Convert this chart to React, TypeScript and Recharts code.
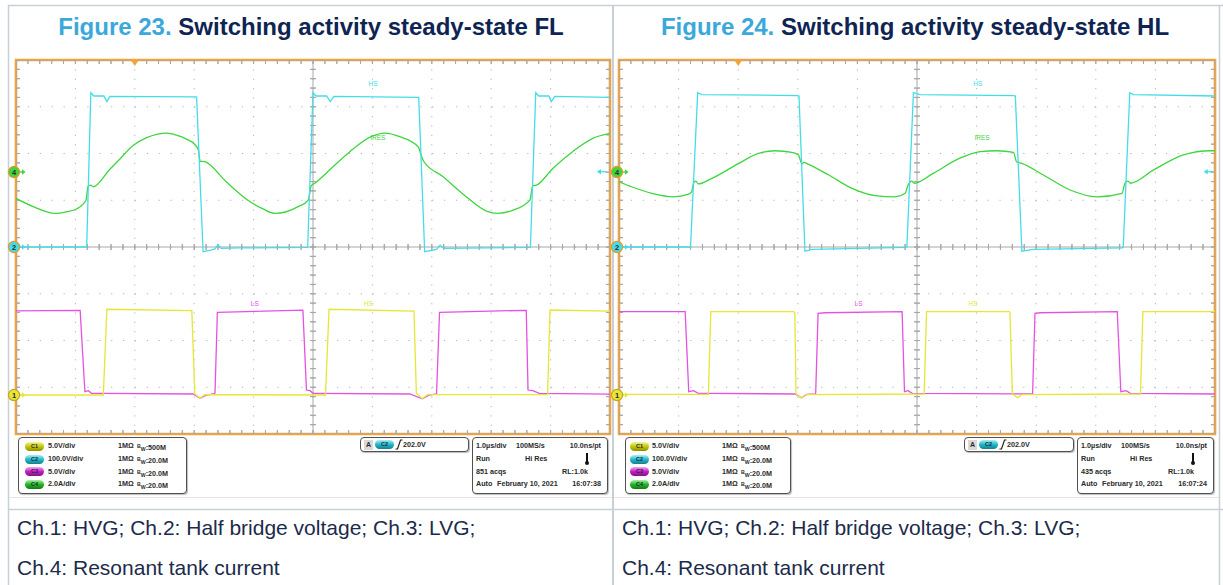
import React from 'react';
import { LineChart, Line, XAxis, YAxis, CartesianGrid, ReferenceDot, ReferenceArea } from 'recharts';

// ================= Oscilloscope channel settings =================
const CH_SCALE: any = { c1: 5, c2: 100, c3: 5, c4: 2 }; // units / division
const CH_OFFSET: any = { c1: -3.166, c2: 0, c3: -3.166, c4: 1.604 }; // zero level, divisions from centre
const CH_COLOR: any = { c1: '#E6E636', c2: '#45DCEA', c3: '#E452E4', c4: '#3ED63E' };

// ================= Figure 23 : steady-state FL =================
const FL_C2_T = [0, 1.19, 1.26, 1.31, 1.48, 1.53, 1.58, 3.04, 3.15, 3.30, 3.35, 3.40, 3.45, 3.77, 4.91, 5.00, 5.05, 5.23, 5.29, 5.35, 6.78, 6.88, 7.08, 7.14, 7.20, 8.66, 8.75, 8.80, 8.97, 9.01, 9.07, 10];
const FL_C2_V = [0, 0, 330, 323, 323, 311, 322, 321, -10, -6, -4, 5, -3, -2, -1, 330, 323, 323, 311, 322, 320, -10, -5, 4, -3, -1, 330, 323, 323, 311, 322, 320];

const FL_C4_T = [0, 0.29, 0.66, 0.85, 1.02, 1.18, 1.21, 1.26, 1.30, 1.58, 1.75, 1.97, 2.20, 2.37, 2.54, 2.70, 2.87, 3.01, 3.07, 3.10, 3.18, 3.54, 3.94, 4.16, 4.36, 4.55, 4.75, 4.92, 4.97, 5.03, 5.31, 5.62, 5.98, 6.21, 6.46, 6.77, 6.82, 6.86, 7.19, 7.58, 7.92, 8.11, 8.37, 8.65, 8.70, 8.76, 9.04, 9.37, 9.71, 10];
const FL_C4_A = [-1.13, -1.48, -1.77, -1.70, -1.58, -1.20, -0.63, -0.56, -0.63, 0.12, 0.56, 1.13, 1.47, 1.61, 1.66, 1.58, 1.41, 1.18, 0.94, 0.47, 0.44, -0.42, -1.27, -1.58, -1.77, -1.70, -1.48, -1.20, -0.59, -0.48, 0.16, 0.87, 1.51, 1.66, 1.51, 1.08, 0.73, 0.47, -0.20, -1.06, -1.67, -1.77, -1.63, -1.20, -0.59, -0.56, 0.16, 0.87, 1.44, 1.65];

const FL_C3_T = [0, 1.08, 1.16, 1.22, 1.27, 1.47, 2.98, 3.10, 3.21, 3.32, 3.35, 3.39, 4.83, 4.89, 4.95, 5.00, 5.06, 6.63, 6.84, 6.96, 7.08, 7.13, 8.59, 8.62, 8.70, 8.81, 10];
const FL_C3_V = [9.0, 9.05, 0.35, 0.46, 0.18, 0.18, 0.11, -0.35, 0, 0.11, 0.2, 8.85, 9.08, 0.53, 0.46, 0.18, 0.18, 0.11, -0.4, 0, 0.11, 8.84, 9.06, 0.53, 0.46, 0.18, 0.1];

const FL_C1_T = [0, 1.47, 1.53, 2.96, 3.01, 3.10, 3.18, 5.21, 5.27, 6.70, 6.74, 6.84, 6.93, 8.95, 8.99, 10];
const FL_C1_V = [0, 0, 9.17, 9.02, 0.11, -0.35, 0.05, 0, 9.17, 8.98, 0.18, -0.4, 0.05, 0.05, 9.09, 8.98];

const FL_LABELS = [
  { text: 'HS', ch: 'c2', t: 6.01, v: 349 },
  { text: 'IRES', ch: 'c4', t: 6.09, v: 1.45 },
  { text: 'LS', ch: 'c3', t: 4.02, v: 9.73 },
  { text: 'HS', ch: 'c1', t: 5.93, v: 9.73 },
];

// ================= Figure 24 : steady-state HL =================
const HL_C2_T = [0, 1.20, 1.32, 1.39, 2.99, 3.02, 3.12, 3.24, 4.80, 4.83, 4.94, 5.05, 6.62, 6.65, 6.76, 6.95, 8.44, 8.46, 8.57, 8.63, 10];
const HL_C2_V = [0, 0, 330, 326, 324, 323, -9, -5, -1, 0, 330, 326, 324, 323, -9, -5, -2, -1, 330, 326, 323];

const HL_C4_T = [0, 0.21, 0.55, 0.91, 1.17, 1.22, 1.25, 1.29, 1.33, 1.56, 2.01, 2.34, 2.62, 2.90, 3.01, 3.07, 3.10, 3.18, 3.52, 3.91, 4.30, 4.64, 4.80, 4.85, 4.91, 4.96, 5.27, 5.72, 6.06, 6.34, 6.62, 6.67, 6.76, 7.12, 7.57, 8.02, 8.44, 8.49, 8.54, 8.58, 8.97, 9.47, 9.92, 10];
const HL_C4_A = [-0.42, -0.63, -0.91, -1.06, -0.95, -0.84, -0.48, -0.39, -0.51, -0.27, 0.37, 0.80, 0.91, 0.84, 0.73, 0.35, 0.41, 0.33, -0.13, -0.70, -1.01, -1.06, -0.91, -0.56, -0.39, -0.48, -0.06, 0.59, 0.87, 0.91, 0.84, 0.44, 0.37, -0.13, -0.77, -1.06, -0.91, -0.48, -0.39, -0.48, 0.09, 0.73, 0.91, 0.91];

const HL_C3_T = [0, 1.11, 1.17, 1.25, 1.33, 1.50, 2.96, 3.06, 3.15, 3.29, 3.30, 3.34, 3.46, 4.75, 4.79, 4.85, 4.92, 6.93, 6.94, 6.98, 7.07, 8.36, 8.42, 8.51, 8.58, 10];
const HL_C3_V = [8.91, 8.91, 0.35, 0.46, 0.18, 0.18, 0.11, -0.29, 0.07, 0.11, 0.18, 8.74, 8.80, 8.91, 0.35, 0.46, 0.18, 0.11, 0.18, 8.74, 8.80, 8.91, 0.35, 0.46, 0.18, 0.11];

const HL_C1_T = [0, 1.50, 1.54, 2.93, 2.95, 2.97, 3.06, 3.15, 5.12, 5.16, 6.55, 6.56, 6.60, 6.69, 6.76, 8.75, 8.79, 10];
const HL_C1_V = [0.07, 0.07, 8.91, 8.91, 8.80, 0.11, -0.29, 0.05, 0.11, 8.91, 8.91, 8.80, 0.11, -0.29, 0.05, 0.11, 8.91, 8.91];

const HL_LABELS = [
  { text: 'HS', ch: 'c2', t: 6.02, v: 349 },
  { text: 'IRES', ch: 'c4', t: 6.09, v: 1.45 },
  { text: 'LS', ch: 'c3', t: 4.02, v: 9.73 },
  { text: 'HS', ch: 'c1', t: 5.94, v: 9.73 },
];

// ================= Scope settings text =================
const CH_ROWS = [
  { ch: 'C1', vdiv: '5.0V/div', bw: '500M' },
  { ch: 'C2', vdiv: '100.0V/div', bw: '20.0M' },
  { ch: 'C3', vdiv: '5.0V/div', bw: '20.0M' },
  { ch: 'C4', vdiv: '2.0A/div', bw: '20.0M' },
];
const TRIG_LEVEL = '202.0V';
const FL_ACQS = '851 acqs';
const FL_CLOCK = '16:07:38';
const HL_ACQS = '435 acqs';
const HL_CLOCK = '16:07:24';

// ================= grid helpers =================
const X_DIVS = [0, 1, 2, 3, 4, 5, 6, 7, 8, 9, 10];
const Y_DIVS = [-4, -3, -2, -1, 0, 1, 2, 3, 4];
const SUB_X = Array.from({ length: 51 }, (_, i) => +(i * 0.2).toFixed(1));
const SUB_Y = Array.from({ length: 41 }, (_, i) => +(-4 + i * 0.2).toFixed(1));
const combAlongX = (y0: number, up: number, down: number) =>
  SUB_X.flatMap((t) => [{ t, y: y0 }, { t, y: y0 + up }, { t, y: y0 - down }, { t, y: y0 }]);
const combAlongY = (x0: number, right: number, left: number) =>
  SUB_Y.flatMap((y) => [{ t: x0, y }, { t: x0 + right, y }, { t: x0 - left, y }, { t: x0, y }]);
const TK_Y = 4 / 46.75;
const TK_X = 4 / 59.5;
const COMBS = [
  combAlongX(4, 0, TK_Y),
  combAlongX(-4, TK_Y, 0),
  combAlongY(0, TK_X, 0),
  combAlongY(10, 0, TK_X),
  combAlongX(0, 0.065, 0.065),
  combAlongY(5, 0.05, 0.05),
];

const pts = (ts: number[], vs: number[]) => ts.map((t, i) => ({ t, v: vs[i] }));

const FONT = '"Liberation Sans", Arial, Helvetica, sans-serif';
const SCOPE_TOP = 60;
const SCOPE_H = 374;
const PX = 14;
const PY = 8;

function ChMarker(props: any) {
  const { cx, cy, n, color, ring } = props;
  const x = cx - 2;
  return (
    <g>
      <line x1={x + 5} y1={cy} x2={x + 9} y2={cy} stroke={color} strokeWidth={1.3} />
      <path d={`M${x + 8} ${cy - 2.8} L${x + 11.5} ${cy} L${x + 8} ${cy + 2.8} Z`} fill={color} />
      <circle cx={x} cy={cy} r={5.6} fill={color} stroke={ring} strokeWidth={1.2} />
      <text x={x} y={cy + 2.8} textAnchor="middle" fontSize={7.5} fontWeight="bold" fontFamily={FONT} fill="#2a2a2a">{n}</text>
    </g>
  );
}

function Scope(props: any) {
  const { left, width, traces, labels, arrowT } = props;
  return (
    <div style={{ position: 'absolute', left: left - PX, top: SCOPE_TOP - PY }}>
      <LineChart width={width + 2 * PX} height={SCOPE_H + 2 * PY} margin={{ top: PY, right: PX, bottom: PY, left: PX }}>
        <XAxis type="number" dataKey="t" domain={[0, 10]} ticks={X_DIVS} allowDataOverflow hide />
        <YAxis type="number" domain={[-4, 4]} ticks={Y_DIVS} allowDataOverflow hide />
        <CartesianGrid vertical={false} horizontalValues={Y_DIVS} stroke="#b4b4b4" strokeWidth={1} strokeDasharray="1.2 10.69" />
        <CartesianGrid horizontal={false} verticalValues={X_DIVS} stroke="#b4b4b4" strokeWidth={1} strokeDasharray="1.2 8.15" />
        {COMBS.map((c, i) => (
          <Line key={'comb' + i} data={c} dataKey="y" type="linear" stroke="#a8a8a8" strokeWidth={1} dot={false} activeDot={false} isAnimationActive={false} />
        ))}
        {traces.map((tr: any) => (
          <Line
            key={tr.key}
            data={tr.data}
            dataKey={(d: any) => d.v / CH_SCALE[tr.ch] + CH_OFFSET[tr.ch]}
            type={tr.smooth ? 'monotone' : 'linear'}
            stroke={CH_COLOR[tr.ch]}
            strokeWidth={1.3}
            dot={false}
            activeDot={false}
            isAnimationActive={false}
          />
        ))}
        <ReferenceArea x1={0} x2={10} y1={-4} y2={4} fill="none" fillOpacity={0} stroke="#F2A33C" strokeWidth={2.6} ifOverflow="visible" />
        {labels.map((l: any, i: number) => (
          <ReferenceDot
            key={'lab' + i}
            x={l.t}
            y={l.v / CH_SCALE[l.ch] + CH_OFFSET[l.ch]}
            r={0}
            ifOverflow="visible"
            shape={(p: any) => (
              <text x={p.cx} y={p.cy + 2.3} textAnchor="middle" fontSize={6.5} fontFamily={FONT} fill={CH_COLOR[l.ch]}>{l.text}</text>
            )}
          />
        ))}
        <ReferenceDot x={2} y={4} r={0} ifOverflow="visible"
          shape={(p: any) => <path d={`M${p.cx - 4} ${p.cy} L${p.cx + 4} ${p.cy} L${p.cx} ${p.cy + 6} Z`} fill="#F2A33C" />} />
        <ReferenceDot x={arrowT} y={1.61} r={0} ifOverflow="visible"
          shape={(p: any) => (
            <g>
              <line x1={p.cx + 3} y1={p.cy} x2={p.cx + 10} y2={p.cy} stroke={CH_COLOR.c2} strokeWidth={1.3} />
              <path d={`M${p.cx} ${p.cy} L${p.cx + 4} ${p.cy - 2.8} L${p.cx + 4} ${p.cy + 2.8} Z`} fill={CH_COLOR.c2} />
            </g>
          )} />
        <ReferenceDot x={0} y={CH_OFFSET.c4} r={0} ifOverflow="visible"
          shape={(p: any) => <ChMarker cx={p.cx} cy={p.cy} n="4" color={CH_COLOR.c4} ring="#E39A2C" />} />
        <ReferenceDot x={0} y={CH_OFFSET.c2} r={0} ifOverflow="visible"
          shape={(p: any) => <ChMarker cx={p.cx} cy={p.cy} n="2" color={CH_COLOR.c2} ring="#E39A2C" />} />
        <ReferenceDot x={0} y={CH_OFFSET.c1} r={0} ifOverflow="visible"
          shape={(p: any) => <ChMarker cx={p.cx} cy={p.cy} n="1" color={CH_COLOR.c1} ring="#C9A41E" />} />
      </LineChart>
    </div>
  );
}

const PILL: any = {
  C1: ['#f4f49a', '#c6c600', '#8f8f00'],
  C2: ['#a8f0f6', '#22b8c8', '#14808c'],
  C3: ['#f4a8f4', '#c41ec4', '#861086'],
  C4: ['#a8f0a8', '#22b422', '#137a13'],
};

function Pill({ ch, x, y }: any) {
  const c = PILL[ch];
  return (
    <div style={{
      position: 'absolute', left: x, top: y, width: 19, height: 9, borderRadius: 5,
      background: `linear-gradient(${c[0]} 0%, ${c[1]} 50%, ${c[2]} 100%)`,
      fontFamily: FONT, fontSize: 5.5, lineHeight: '9px', textAlign: 'center', color: '#1d2a40', fontWeight: 700,
    }}>{ch}</div>
  );
}

const ROW_Y = [446, 459, 471.5, 484];
const txt: any = { position: 'absolute', fontFamily: FONT, fontSize: 7.2, fontWeight: 700, color: '#2a2a2a', lineHeight: '10px', whiteSpace: 'nowrap' };
const box: any = { position: 'absolute', top: 437, border: '1px solid #505050', borderRadius: 4, background: '#fff', boxShadow: '1px 1px 1px #bdbdbd', boxSizing: 'border-box' };

function InfoPanel({ L, T, R, acqs, clock }: any) {
  return (
    <>
      <div style={{ ...box, left: L.x, width: L.w, height: 57 }} />
      {CH_ROWS.map((r, i) => (
        <React.Fragment key={r.ch}>
          <Pill ch={r.ch} x={L.x + L.pill} y={ROW_Y[i] - 4.5} />
          <div style={{ ...txt, left: L.x + L.val, top: ROW_Y[i] - 5 }}>{r.vdiv}</div>
          <div style={{ ...txt, left: L.x + L.imp, top: ROW_Y[i] - 5 }}>1MΩ</div>
          <div style={{ ...txt, left: L.x + L.imp + 19, top: ROW_Y[i] - 5 }}>
            <span style={{ fontSize: 5.2, verticalAlign: 2 }}>B</span><span style={{ fontSize: 5.2, verticalAlign: -1 }}>W</span>:{r.bw}
          </div>
        </React.Fragment>
      ))}
      <div style={{ ...box, left: T.x, width: T.w, height: 15 }} />
      <div style={{ ...txt, left: T.x + 4, top: 439.5, width: 9, height: 10, background: '#d9d9d9', textAlign: 'center', fontSize: 7 }}>A</div>
      <Pill ch="C2" x={T.x + 15} y={440} />
      <svg style={{ position: 'absolute', left: T.x + 35, top: 439 }} width={8} height={11}>
        <path d="M0.5 10 L2.5 10 L5.5 1 L7.5 1" stroke="#222" strokeWidth={1.2} fill="none" />
      </svg>
      <div style={{ ...txt, left: T.x + 43, top: 439.5 }}>{TRIG_LEVEL}</div>

      <div style={{ ...box, left: R.x, width: R.w, height: 57 }} />
      <div style={{ ...txt, left: R.x + 4, top: ROW_Y[0] - 5 }}>1.0µs/div</div>
      <div style={{ ...txt, left: R.x + 44, top: ROW_Y[0] - 5 }}>100MS/s</div>
      <div style={{ ...txt, left: R.x, width: R.w - 7, textAlign: 'right', top: ROW_Y[0] - 5 }}>10.0ns/pt</div>
      <div style={{ ...txt, left: R.x + 4, top: ROW_Y[1] - 5 }}>Run</div>
      <div style={{ ...txt, left: R.x + 53, top: ROW_Y[1] - 5 }}>Hi Res</div>
      <svg style={{ position: 'absolute', left: R.x + R.w - 24, top: ROW_Y[1] - 7 }} width={6} height={14}>
        <line x1={3} y1={1} x2={3} y2={10} stroke="#111" strokeWidth={2} />
        <circle cx={3} cy={11} r={2} fill="#111" />
      </svg>
      <div style={{ ...txt, left: R.x + 4, top: ROW_Y[2] - 5 }}>{acqs}</div>
      <div style={{ ...txt, left: R.x, width: R.w - 20, textAlign: 'right', top: ROW_Y[2] - 5 }}>RL:1.0k</div>
      <div style={{ ...txt, left: R.x + 4, top: ROW_Y[3] - 5 }}>Auto</div>
      <div style={{ ...txt, left: R.x + 25, top: ROW_Y[3] - 5 }}>February 10, 2021</div>
      <div style={{ ...txt, left: R.x, width: R.w - 7, textAlign: 'right', top: ROW_Y[3] - 5 }}>{clock}</div>
    </>
  );
}

const FL_TRACES = [
  { key: 'c4', ch: 'c4', smooth: true, data: pts(FL_C4_T, FL_C4_A) },
  { key: 'c2', ch: 'c2', data: pts(FL_C2_T, FL_C2_V) },
  { key: 'c3', ch: 'c3', data: pts(FL_C3_T, FL_C3_V) },
  { key: 'c1', ch: 'c1', data: pts(FL_C1_T, FL_C1_V) },
];
const HL_TRACES = [
  { key: 'c4', ch: 'c4', smooth: true, data: pts(HL_C4_T, HL_C4_A) },
  { key: 'c2', ch: 'c2', data: pts(HL_C2_T, HL_C2_V) },
  { key: 'c3', ch: 'c3', data: pts(HL_C3_T, HL_C3_V) },
  { key: 'c1', ch: 'c1', data: pts(HL_C1_T, HL_C1_V) },
];

export default function App() {
  const frame = '#C8D0D7';
  const navy = '#0E2452';
  const blue = '#3BA8DC';
  const capColor = '#1C2B4B';
  return (
    <div style={{ position: 'absolute', left: 0, top: 0, width: 1223, height: 585, background: '#fff', overflow: 'hidden' }}>
      <svg width={1223} height={585} style={{ position: 'absolute', left: 0, top: 0 }}>
        <line x1={8} y1={5.5} x2={1223} y2={5.5} stroke={frame} strokeWidth={1.5} />
        <line x1={8.5} y1={5} x2={8.5} y2={585} stroke={frame} strokeWidth={1.5} />
        <line x1={613} y1={5} x2={613} y2={585} stroke={frame} strokeWidth={2} />
        <line x1={1219.5} y1={5} x2={1219.5} y2={585} stroke={frame} strokeWidth={1.5} />
        <line x1={8} y1={509.5} x2={1223} y2={509.5} stroke={frame} strokeWidth={1.5} />
        <line x1={9} y1={497.5} x2={612} y2={497.5} stroke="#e4e4e4" strokeWidth={1} />
        <line x1={614} y1={497.5} x2={1219} y2={497.5} stroke="#e4e4e4" strokeWidth={1} />
        <text x={311} y={35} textAnchor="middle" fontFamily={FONT} fontWeight="bold" fontSize={24}>
          <tspan fill={blue}>Figure 23. </tspan><tspan fill={navy}>Switching activity steady-state FL</tspan>
        </text>
        <text x={915} y={35} textAnchor="middle" fontFamily={FONT} fontWeight="bold" fontSize={24}>
          <tspan fill={blue}>Figure 24. </tspan><tspan fill={navy}>Switching activity steady-state HL</tspan>
        </text>
        <text x={17} y={535} fontFamily={FONT} fontSize={21} fill={capColor}>Ch.1: HVG; Ch.2: Half bridge voltage; Ch.3: LVG;</text>
        <text x={17} y={575} fontFamily={FONT} fontSize={21} fill={capColor}>Ch.4: Resonant tank current</text>
        <text x={622} y={535} fontFamily={FONT} fontSize={21} fill={capColor}>Ch.1: HVG; Ch.2: Half bridge voltage; Ch.3: LVG;</text>
        <text x={622} y={575} fontFamily={FONT} fontSize={21} fill={capColor}>Ch.4: Resonant tank current</text>
      </svg>

      <Scope left={16} width={594} traces={FL_TRACES} labels={FL_LABELS} arrowT={9.78} />
      <Scope left={619} width={596} traces={HL_TRACES} labels={HL_LABELS} arrowT={9.81} />

      <InfoPanel
        L={{ x: 18, w: 169, pill: 7, val: 30, imp: 100 }}
        T={{ x: 360, w: 109 }}
        R={{ x: 472, w: 136 }}
        acqs={FL_ACQS}
        clock={FL_CLOCK}
      />
      <InfoPanel
        L={{ x: 625, w: 166, pill: 5, val: 27, imp: 97 }}
        T={{ x: 964, w: 110 }}
        R={{ x: 1077, w: 137 }}
        acqs={HL_ACQS}
        clock={HL_CLOCK}
      />
    </div>
  );
}
